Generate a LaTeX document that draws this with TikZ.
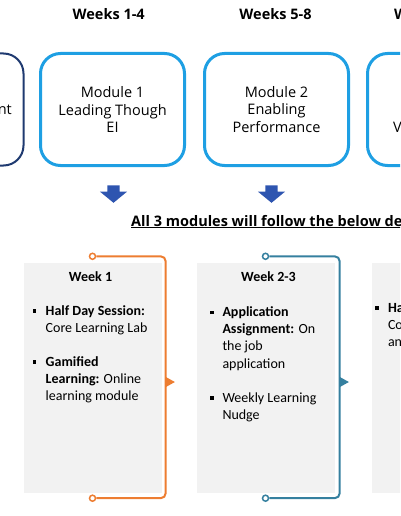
\documentclass[tikz,border=0pt]{standalone}
\usepackage{fontspec}
\setmainfont{Open Sans}
\newfontfamily\calfont{Carlito}
\usepackage{xcolor}
\usepackage{tikz}
\usetikzlibrary{shapes,arrows}
\usetikzlibrary{positioning}
\definecolor{modblue}{HTML}{1E9FE3}
\definecolor{navy}{HTML}{1F3A70}
\definecolor{arrblue}{HTML}{2E55B0}
\definecolor{orng}{HTML}{ED7D31}
\definecolor{tealblue}{HTML}{35809F}
\definecolor{panelgray}{HTML}{F2F2F2}
\tikzstyle{module}=[rectangle, draw=modblue, line width=3pt, rounded corners=20pt,
        minimum width=144pt, minimum height=112pt, align=center,
        font=\fontsize{14.5}{17.5}\selectfont]
\tikzstyle{oldmodule}=[module, draw=navy, line width=2pt]
\tikzstyle{weekhead}=[font=\fontsize{14.5}{17}\selectfont\bfseries, inner sep=0pt]
\tikzstyle{bigarrow}=[single arrow, rotate=-90, fill=arrblue, draw=none,
        inner sep=0pt, text width=12pt, text height=6pt, text depth=6pt,
        single arrow head extend=7.5pt, single arrow tip angle=101]
\tikzstyle{panel}=[rectangle, fill=panelgray, draw=black!5,
        minimum width=137pt, minimum height=229pt]
\tikzstyle{ptitle}=[font=\calfont\fontsize{14}{17}\selectfont\bfseries, inner sep=0pt]
\tikzstyle{pbody}=[font=\calfont\fontsize{14}{17.2}\selectfont, inner sep=0pt]
\tikzstyle{knob}=[circle, draw, fill=white, line width=1.5pt, inner sep=0pt,
        minimum size=6pt]
\tikzstyle{bracetip}=[isosceles triangle, isosceles triangle stretches, fill,
        inner sep=0pt, minimum height=9pt, minimum width=10pt]
\tikzstyle{brace}=[line width=2pt, rounded corners=5pt]
\newcommand{\sqbul}{\rule[2.5pt]{3.5pt}{3.5pt}}

\begin{document}
\begin{tikzpicture}
      [x=1pt, y=-1pt, node distance=164pt]
      \useasboundingbox (0,0) rectangle (400,516);
      \clip (0,0) rectangle (400,516);
      % Module boxes
      \node [module] (mod1) at (112.5,109.5) {Module 1\\Leading Though\\EI};
      \node [module, right of=mod1] (mod2) {Module 2\\Enabling\\Performance};
      \node [module, right of=mod2, node distance=163pt] (mod3) {};
      \node [oldmodule, left of=mod1, node distance=161pt] (mod0) {};
      \node [font=\fontsize{14.5}{17.5}\selectfont, inner sep=0pt, anchor=east] (mod0txt) at (12,110) {nt};
      \node [font=\fontsize{14.5}{17.5}\selectfont, inner sep=0pt, anchor=west] (mod3txt) at (393,127) {V};
      % Week headings
      \node [weekhead, anchor=base] (wk1) at (108.7,19.3) {Weeks 1-4};
      \node [weekhead, anchor=base] (wk2) at (275.5,19.3) {Weeks 5-8};
      \node [weekhead, anchor=base west] (wk3) at (394,19.3) {W};
      % Down arrows
      \node [bigarrow] (arr1) at (113.5,191.5) {};
      \node [bigarrow] (arr2) at (271.5,191.5) {};
      \node [font=\fontsize{14.5}{17}\selectfont\bfseries, inner sep=0pt, anchor=base west]
        (design) at (131,226) {\underline{All 3 modules will follow the below de}};
      % Week panels
      \node [panel] (panel1) at (92.5,377.5) {};
      \node [panel, right of=panel1, node distance=173pt] (panel2) {};
      \node [panel, right of=panel2, node distance=175pt] (panel3) {};
      \node [ptitle, below=9pt of panel1.north, xshift=-2pt] (title1) {Week 1};
      \node [ptitle, below=9pt of panel2.north, xshift=3pt] (title2) {Week 2-3};
      \node [pbody, below right=40pt and 8.7pt of panel1.north west] (body1) {%
        \begin{tabular}{@{}l@{\hspace{9.5pt}}l@{}}
        \sqbul & \textbf{Half Day Session:}\\
               & Core Learning Lab\\[17pt]
        \sqbul & \textbf{Gamified}\\
               & \textbf{Learning:} Online\\
               & learning module
        \end{tabular}};
      \node [pbody, below right=41.5pt and 13pt of panel2.north west] (body2) {%
        \begin{tabular}{@{}l@{\hspace{9pt}}l@{}}
        \sqbul & \textbf{Application}\\
               & \textbf{Assignment:} On\\
               & the job\\
               & application\\[17pt]
        \sqbul & Weekly Learning\\
               & Nudge
        \end{tabular}};
      \node [pbody, below right=37pt and 3.3pt of panel3.north west] (body3) {%
        \begin{tabular}{@{}l@{\hspace{9.2pt}}l@{}}
        \sqbul & \textbf{Ha}\\
               & Co\\
               & an
        \end{tabular}};
      % Brackets
      \node [knob, draw=orng] (k1top) at ([yshift=6.5pt]panel1.north) {};
      \node [knob, draw=orng] (k1bot) at ([yshift=-6pt]panel1.south) {};
      \coordinate (m1) at ([xshift=4.5pt]panel1.east);
      \draw [brace, orng] (k1top) -| (m1) |- (k1bot);
      \node [bracetip, orng, anchor=west] (tip1) at ([yshift=-4.5pt]m1) {};
      \node [knob, draw=tealblue] (k2top) at ([yshift=6.5pt]panel2.north) {};
      \node [knob, draw=tealblue] (k2bot) at ([yshift=-6pt]panel2.south) {};
      \coordinate (m2) at ([xshift=5.5pt]panel2.east);
      \draw [brace, tealblue] (k2top) -| (m2) |- (k2bot);
      \node [bracetip, tealblue, anchor=west] (tip2) at ([yshift=-4.5pt]m2) {};
\end{tikzpicture}
\end{document}
